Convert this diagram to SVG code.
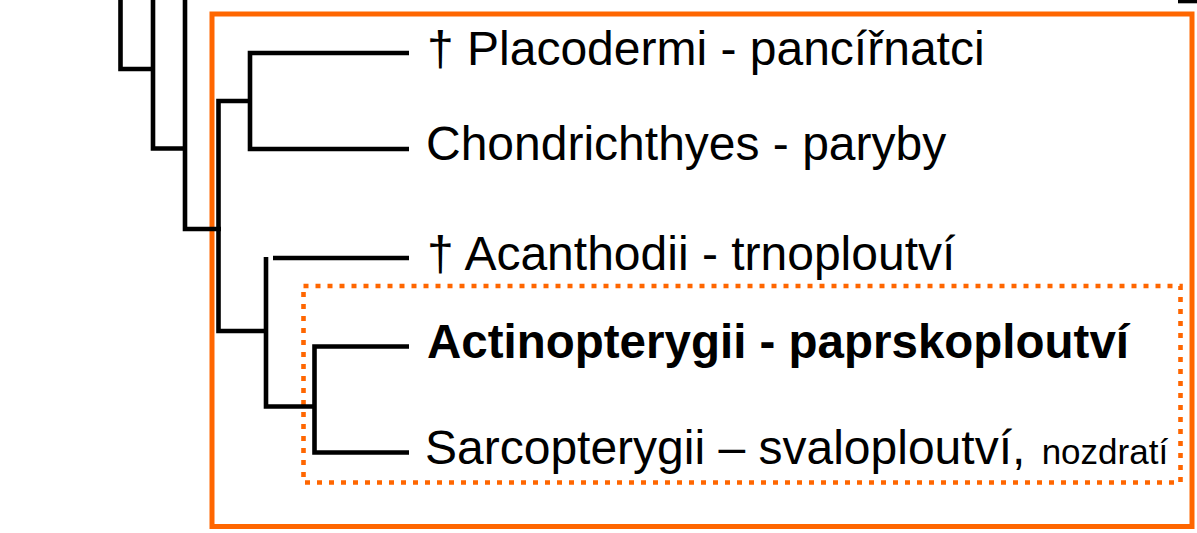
<svg xmlns="http://www.w3.org/2000/svg" width="1197" height="533" viewBox="0 0 1197 533">
<style>
.e{fill:none;stroke:#000;stroke-width:4.6;stroke-linejoin:miter;stroke-linecap:butt}
.t{font-family:"Liberation Sans",Arial,sans-serif;font-size:48px;fill:#000}
.b{font-weight:bold;font-size:47.5px}
.s{font-size:35px}
.box{fill:none;stroke:#FF6600;stroke-width:5}
.dot{fill:none;stroke:#FF6600;stroke-width:4.6;stroke-dasharray:5 7}
</style>
<rect width="1197" height="533" fill="#fff"/>
<g id="group-boxes">
<rect id="box-gnathostomata" class="box" x="212" y="14" width="980" height="512.5"/>
<rect id="box-osteichthyes" class="dot" x="303.5" y="286" width="877" height="196.5"/>
</g>
<g id="connectors">
<path class="e" d="M120.5 0V69H153"/>
<path class="e" d="M153 0V148.5H185"/>
<path class="e" d="M185 0V229H221"/>
<path class="e" d="M409 53H250V149H409"/>
<path class="e" d="M250 101H218.5V331H266"/>
<path class="e" d="M273 258H409"/>
<path class="e" d="M266 257V406.5H314.5"/>
<path class="e" d="M409 346.5H314.5V452.5H409"/>
<path class="e" d="M1178 1H1197"/>
</g>
<g id="node-placodermi"><text class="t" x="427" y="65">† Placodermi - pancířnatci</text></g>
<g id="node-chondrichthyes"><text class="t" x="426" y="160">Chondrichthyes - paryby</text></g>
<g id="node-acanthodii"><text class="t" x="427" y="270">† Acanthodii - trnoploutví</text></g>
<g id="node-actinopterygii"><text class="t b" x="427" y="358">Actinopterygii - paprskoploutví</text></g>
<g id="node-sarcopterygii"><text class="t" x="425" y="463.5">Sarcopterygii – svaloploutví, <tspan class="s" dx="3">nozdratí</tspan></text></g>
</svg>
